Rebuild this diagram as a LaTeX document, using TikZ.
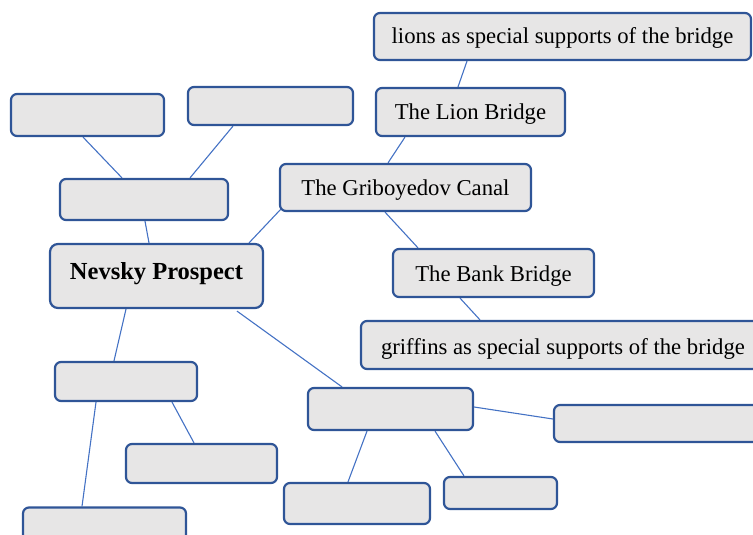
\documentclass[tikz,border=0pt]{standalone}
\usepackage{fontspec}
\setmainfont{Liberation Serif}
\usetikzlibrary{calc}
\definecolor{boxfill}{RGB}{231,230,230}
\definecolor{boxedge}{RGB}{47,85,151}
\definecolor{linkc}{RGB}{68,114,196}
\pgfdeclarelayer{bg}
\pgfsetlayers{bg,main}
\begin{document}
\begin{tikzpicture}[x=1pt,y=-1pt,
  box/.style={draw=boxedge, fill=boxfill, line width=2.2pt, rounded corners=6pt,
    inner sep=0pt, font=\fontsize{22.7}{27}\selectfont},
  tb/.style={text height=#1, text depth=0pt},
  link/.style={draw=linkc, line width=1.1pt}]
\useasboundingbox (0,0) rectangle (753,535);
\begin{scope}
\clip (0,0) rectangle (753,535);
% upper left
\node[box, minimum width=153pt, minimum height=42pt] (A) at (87.5,115) {};
\node[box, minimum width=165pt, minimum height=38pt] (B) at (270.5,106) {};
\node[box, minimum width=168pt, minimum height=41pt] (C) at (144,199.5) {};
\node[box, minimum width=213pt, minimum height=64pt, rounded corners=8pt, tb=6.6pt,
  font=\fontsize{24.5}{29}\selectfont\bfseries] (N) at (156.5,276) {Nevsky Prospect};
% right branch
\node[box, tb=13.6pt, minimum width=377pt, minimum height=47pt] (Lions) at (562.5,36.5) {lions as special supports of the bridge};
\node[box, tb=14pt, minimum width=189pt, minimum height=48pt] (LionB) at (470.5,112) {The Lion Bridge};
\node[box, tb=15pt, minimum width=251pt, minimum height=47pt] (Grib) at (405.5,187.5) {The Griboyedov Canal};
\node[box, tb=17.4pt, minimum width=201pt, minimum height=48pt] (Bank) at (493.5,273) {The Bank Bridge};
\node[box, tb=18pt, minimum width=404pt, minimum height=48pt] (Griff) at (563,345) {griffins as special supports of the bridge};
% lower middle
\node[box, minimum width=165pt, minimum height=42pt] (E) at (390.5,409) {};
\node[box, minimum width=215pt, minimum height=37pt] (F) at (661.5,423.5) {};
\node[box, minimum width=146pt, minimum height=41pt] (G) at (357,503.5) {};
\node[box, minimum width=113pt, minimum height=32pt] (H) at (500.5,493) {};
% lower left
\node[box, minimum width=142pt, minimum height=39pt] (D) at (126,381.5) {};
\node[box, minimum width=163pt, minimum height=41pt] (I) at (104.5,528) {};
\node[box, minimum width=151pt, minimum height=39pt] (J) at (201.5,463.5) {};
\begin{pgfonlayer}{bg}
\draw[link] ($(A.south)+(-4.5,0)$) -- ($(C.north)+(-22,0)$);
\draw[link] ($(B.south)+(-37.5,0)$) -- ($(C.north)+(46,0)$);
\draw[link] ($(C.south)+(1,0)$) -- ($(N.north)+(-7.5,0)$);
\draw[link] ($(N.north)+(92.5,0)$) -- ($(Grib.south west)+(2,-3)$);
\draw[link] ($(Lions.south)+(-95.5,0)$) -- ($(LionB.north)+(-12.5,0)$);
\draw[link] ($(LionB.south)+(-65.5,0)$) -- ($(Grib.north)+(-17.5,0)$);
\draw[link] ($(Grib.south)+(-20.5,0)$) -- ($(Bank.north)+(-75.5,0)$);
\draw[link] ($(Bank.south)+(-33.5,0)$) -- ($(Griff.north)+(-83,0)$);
\draw[link] ($(N.south)+(-30.5,0)$) -- ($(D.north)+(-12,0)$);
\draw[link] ($(N.south)+(80.5,2)$) -- ($(E.north)+(-48.5,0)$);
\draw[link] ($(D.south)+(-30,0)$) -- ($(I.north)+(-22.5,0)$);
\draw[link] ($(D.south)+(46,0)$) -- ($(J.north)+(-7.5,0)$);
\draw[link] ($(E.east)+(0,-2)$) -- ($(F.west)+(0,-4.5)$);
\draw[link] ($(E.south)+(-23.5,0)$) -- ($(G.north)+(-9,0)$);
\draw[link] ($(E.south)+(44.5,0)$) -- ($(H.north)+(-36.5,0)$);
\end{pgfonlayer}
\end{scope}
\end{tikzpicture}
\end{document}
